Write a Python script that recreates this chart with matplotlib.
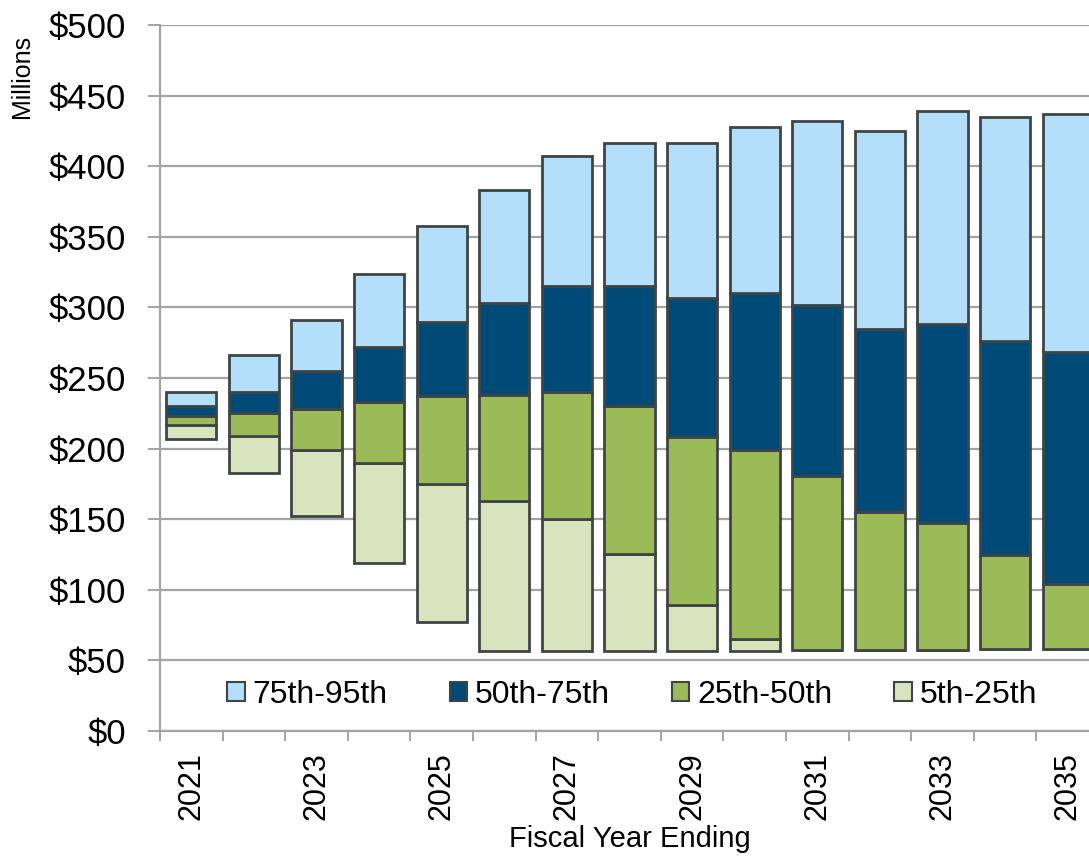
import matplotlib
matplotlib.use("Agg")
import matplotlib.pyplot as plt
import numpy as np
from matplotlib.patches import Patch
from matplotlib.ticker import FixedLocator

plt.rcParams["font.family"] = ["Liberation Sans", "DejaVu Sans"]

# Fiscal years and revenue percentiles ($ millions)
years = [2021, 2022, 2023, 2024, 2025, 2026, 2027, 2028, 2029, 2030,
         2031, 2032, 2033, 2034, 2035]
p5 = [207, 182.5, 152, 119, 77, 57, 57, 57, 57, 57,
      57.5, 57.5, 57.5, 58, 58]
p25 = [217, 209, 199, 190, 175, 163, 150, 125.5, 89, 65,
       57.5, 57.5, 57.5, 58, 58]
p50 = [223, 225, 228, 233, 237, 238, 240, 230, 208, 199,
       180.5, 155, 147, 124.5, 104]
p75 = [230, 240, 255, 272, 290, 303, 315, 315.5, 307, 310,
       302, 285, 288, 276, 268.5]
p95 = [240, 266, 291, 324, 358, 383, 407, 416.5, 416.5, 428,
       432, 425, 439, 434.5, 437]

band_labels = ["75th-95th", "50th-75th", "25th-50th", "5th-25th"]
band_colors = ["#B3DFFB", "#004A77", "#9BBB59", "#D7E4BD"]
y_ticks = [0, 50, 100, 150, 200, 250, 300, 350, 400, 450, 500]

W, H = 1089, 856
fig = plt.figure(figsize=(W / 100, H / 100), dpi=100)
ax = fig.add_axes([160 / W, (H - 731) / H, 939 / W, 706 / H])

x = np.arange(len(years))
edge = "#3F4545"
bands = [(p5, p25, band_colors[3]), (p25, p50, band_colors[2]),
         (p50, p75, band_colors[1]), (p75, p95, band_colors[0])]
for lo, hi, col in bands:
    lo = np.array(lo)
    hi = np.array(hi)
    ax.bar(x, hi - lo, bottom=lo, width=0.8, color=col,
           edgecolor=edge, linewidth=2.0, zorder=3)

ax.set_xlim(-0.5, len(years) - 0.5)
ax.set_ylim(0, 500)

grid_col = "#A3A3A3"
ax.set_yticks(y_ticks)
ax.set_yticklabels([f"${v}" for v in y_ticks], fontsize=25)
ax.yaxis.grid(True, color=grid_col, linewidth=1.6, zorder=0)
ax.tick_params(axis="y", length=8.6, width=1.4, color=grid_col, pad=16)

ax.set_xticks(x[::2])
ax.set_xticklabels([str(y) for y in years[::2]], rotation=90, fontsize=22)
ax.xaxis.set_minor_locator(FixedLocator(np.arange(-0.5, len(years), 1.0)))
ax.tick_params(axis="x", which="major", length=0, pad=15)
ax.tick_params(axis="x", which="minor", length=7, width=1.4, color=grid_col)

for side in ["top", "right"]:
    ax.spines[side].set_visible(False)
for side in ["left", "bottom"]:
    ax.spines[side].set_color(grid_col)
    ax.spines[side].set_linewidth(1.6)
ax.set_axisbelow(True)

handles = [Patch(facecolor=c, edgecolor=edge, linewidth=1.5) for c in band_colors]
ax.legend(handles, band_labels, ncol=4, loc="center",
          bbox_to_anchor=(0.503, 0.051), frameon=False, fontsize=23,
          handlelength=0.55, handleheight=0.55, handletextpad=0.25,
          columnspacing=1.93, borderpad=0, borderaxespad=0)

fig.text(630 / W, 1 - 847 / H, "Fiscal Year Ending", fontsize=21,
         ha="center", va="baseline")
fig.text(22 / W, 1 - 76 / H, "Millions", fontsize=18, rotation=90,
         ha="center", va="center")

fig.savefig("out.png", dpi=100)
